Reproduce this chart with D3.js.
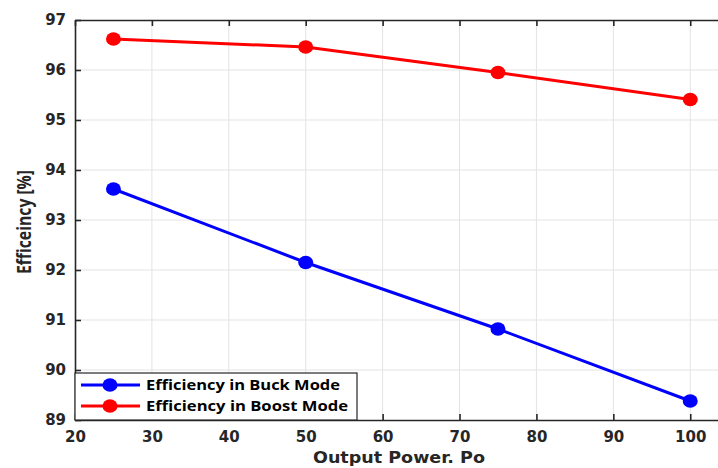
<!DOCTYPE html>
<html lang="en">
<head>
<meta charset="UTF-8">
<title>Efficiency vs Output Power</title>
<style>
    body { margin: 0; background: #fff; }
    svg { display: block; }
    .tick-label { font-family: "DejaVu Sans", sans-serif; font-weight: 700; font-size: 15px; fill: #262626; }
    .axis-title { font-family: "DejaVu Sans", sans-serif; font-weight: 700; fill: #262626; }
    .legend-text { font-family: "Open Sans", sans-serif; font-weight: 700; font-size: 15px; fill: #000; }
</style>
</head>
<body>
<svg id="chart" width="718" height="468"></svg>
<script src="https://d3js.org/d3.v7.min.js"></script>
<script>
const power = [25, 50, 75, 100];
const buckEff = [93.62, 92.15, 90.82, 89.38];
const boostEff = [96.62, 96.46, 95.95, 95.41];
const xTicks = [20, 30, 40, 50, 60, 70, 80, 90, 100];
const yTicks = [89, 90, 91, 92, 93, 94, 95, 96, 97];
const seriesNames = ['Efficiency in Buck Mode', 'Efficiency in Boost Mode'];
const seriesColors = ['#0000ff', '#ff0000'];

const svg = d3.select('#chart');
const margin = {left: 75, top: 20, right: -3, bottom: 48};
const W = 718, H = 468;

const x = d3.scaleLinear().domain([20, 104]).range([margin.left, W - margin.right]);
const y = d3.scaleLinear().domain([89, 97]).range([H - margin.bottom, margin.top]);

// grid
const grid = svg.append('g');
grid.selectAll('.gx').data(xTicks.slice(1)).enter().append('line')
    .attr('x1', d => x(d)).attr('x2', d => x(d))
    .attr('y1', y(89)).attr('y2', y(97))
    .attr('stroke', '#e3e3e3').attr('stroke-width', 1);
grid.selectAll('.gy').data(yTicks.slice(1, -1)).enter().append('line')
    .attr('x1', x(20)).attr('x2', W)
    .attr('y1', d => y(d)).attr('y2', d => y(d))
    .attr('stroke', '#e3e3e3').attr('stroke-width', 1);

// axes with inward ticks
const xAxis = svg.append('g').attr('transform', `translate(0,${y(89)})`)
    .call(d3.axisBottom(x).tickValues(xTicks).tickSizeInner(-6).tickSizeOuter(0).tickPadding(10));
const xTop = svg.append('g').attr('transform', `translate(0,${y(97)})`)
    .call(d3.axisTop(x).tickValues(xTicks).tickSizeInner(-6).tickSizeOuter(0).tickFormat(''));
const yAxis = svg.append('g').attr('transform', `translate(${x(20)},0)`)
    .call(d3.axisLeft(y).tickValues(yTicks).tickSizeInner(-6).tickSizeOuter(0).tickPadding(9));

[xAxis, xTop, yAxis].forEach(g => {
    g.select('.domain').attr('stroke', '#262626').attr('stroke-width', 1.6);
    g.selectAll('.tick line').attr('stroke', '#262626').attr('stroke-width', 1.6);
    g.selectAll('.tick text').attr('class', 'tick-label');
});
xAxis.selectAll('.tick text').attr('dy', '0.75em').attr('y', 11);
yAxis.selectAll('.tick text').attr('dy', '0.3em');

// axis titles
svg.append('text').attr('class', 'axis-title')
    .attr('x', 399).attr('y', 463)
    .attr('text-anchor', 'middle').style('font-size', '16px')
    .attr('textLength', 172).attr('lengthAdjust', 'spacingAndGlyphs')
    .text('Output Power. Po');
svg.append('text')
    .attr('transform', 'translate(31,222) rotate(-90)')
    .attr('text-anchor', 'middle')
    .style('font-family', '"Open Sans", sans-serif').style('font-weight', 700)
    .style('font-size', '19px').style('fill', '#262626')
    .attr('textLength', 104).attr('lengthAdjust', 'spacingAndGlyphs')
    .text('Efficeincy [%]');

// series
const series = [buckEff, boostEff];
const line = d3.line().x((d, i) => x(power[i])).y(d => y(d));
series.forEach((vals, s) => {
    svg.append('path').datum(vals)
        .attr('d', line)
        .attr('fill', 'none')
        .attr('stroke', seriesColors[s])
        .attr('stroke-width', 3);
    svg.append('g').selectAll('ellipse').data(vals).enter().append('ellipse')
        .attr('cx', (d, i) => x(power[i]))
        .attr('cy', d => y(d))
        .attr('rx', 7.5).attr('ry', 6.8)
        .attr('fill', seriesColors[s]);
});

// legend
const legendLens = [194, 202];
const lg = svg.append('g');
lg.append('rect')
    .attr('x', x(20)).attr('y', 373)
    .attr('width', 282).attr('height', 47)
    .attr('fill', '#fff').attr('stroke', '#262626').attr('stroke-width', 1.2);
seriesNames.forEach((name, i) => {
    const ly = 385 + i * 21;
    lg.append('line').attr('x1', 81).attr('x2', 140).attr('y1', ly).attr('y2', ly)
        .attr('stroke', seriesColors[i]).attr('stroke-width', 3);
    lg.append('ellipse').attr('cx', 110).attr('cy', ly).attr('rx', 7.5).attr('ry', 6.8)
        .attr('fill', seriesColors[i]);
    lg.append('text').attr('class', 'legend-text')
        .attr('x', 146).attr('y', ly).attr('dy', '0.35em')
        .attr('textLength', legendLens[i]).attr('lengthAdjust', 'spacingAndGlyphs')
        .text(name);
});
</script>
</body>
</html>
